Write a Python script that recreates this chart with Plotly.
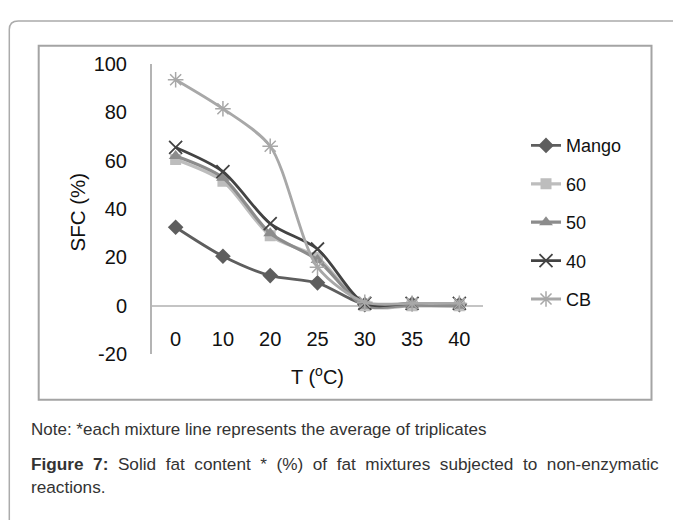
import plotly.graph_objects as go

# ---- data ----
temps = ["0", "10", "20", "25", "30", "35", "40"]
mango = [32.5, 20.5, 12.5, 9.5, 0.5, 0.8, 0.5]
s60 = [60.5, 51.5, 29.0, 20.0, 0.0, 0.0, 0.0]
s50 = [62.0, 53.0, 30.0, 19.0, 0.0, 0.3, 0.0]
s40 = [65.5, 55.5, 34.0, 23.5, 1.0, 1.0, 1.0]
cb = [93.5, 81.5, 66.0, 16.0, 1.5, 1.0, 1.0]
y_ticks = [-20, 0, 20, 40, 60, 80, 100]
y_tick_labels = ["-20", "0", "20", "40", "60", "80", "100"]

W, H = 681, 520
OFF = 8  # page body margin compensation
FONT = "Liberation Sans, Arial, sans-serif"

def px(x):
    return (x - OFF) / W

def py(y):
    return 1 - (y - OFF) / H

series = [
    ("Mango", mango, "#5e5e5e", "diamond", 12, 2.8, None),
    ("60", s60, "#bdbdbd", "square", 11, 3.2, None),
    ("50", s50, "#8c8c8c", "triangle-up", 12, 3.2, None),
    ("40", s40, "#434343", "x-thin-open", 13, 2.8, 1.8),
    ("CB", cb, "#a8a8a8", "asterisk-open", 13, 2.8, 1.5),
]

fig = go.Figure()
for name, vals, color, sym, size, lw, mlw in series:
    marker = dict(symbol=sym, size=size, color=color)
    if mlw:
        marker["line"] = dict(color=color, width=mlw)
    fig.add_trace(go.Scatter(
        x=temps, y=vals, name=name, mode="lines+markers",
        line=dict(color=color, width=lw, shape="spline", smoothing=0.8),
        marker=marker, legendgroup=name,
    ))

fig.update_layout(
    width=W, height=H,
    margin=dict(l=0, r=0, t=0, b=0),
    paper_bgcolor="white", plot_bgcolor="white",
    font=dict(family=FONT, color="#111111", size=20),
    showlegend=True,
    legend=dict(
        x=px(526), y=py(121), xanchor="left", yanchor="top",
        font=dict(size=18, color="#111111"),
        tracegroupgap=12, bgcolor="rgba(0,0,0,0)",
    ),
    xaxis=dict(
        type="category", range=[-0.5, 6.5],
        domain=[px(152), px(483)],
        anchor="free", position=py(328),
        showline=False, showgrid=False, zeroline=False,
        ticks="", tickfont=dict(size=20),
    ),
    yaxis=dict(
        range=[-20, 100], domain=[py(358), py(55)],
        tickvals=y_ticks, ticktext=y_tick_labels, ticks="", showgrid=False,
        showline=True, linecolor="#b4b4b4", linewidth=2,
        zeroline=True, zerolinecolor="#c4c4c4", zerolinewidth=2,
        ticklabelstandoff=19, tickfont=dict(size=20),
    ),
)

def note(text, x, y, size=20, color="#111111", xanchor="center", angle=0):
    fig.add_annotation(text=text, x=px(x), y=py(y), xref="paper", yref="paper",
                       xanchor=xanchor, yanchor="middle", textangle=angle,
                       showarrow=False, font=dict(size=size, color=color))

# axis titles
note("SFC (%)", 77, 210, size=20.5, angle=-90)
note("T (<sup>o</sup>C)", 317, 380, size=20)

# caption texts (first caption line is justified in the source)
gap = " \u00a0"
note("Note: *each mixture line represents the average of triplicates", 29, 437,
     size=17, color="#333333", xanchor="left")
fig_line = gap.join(["<b>Figure", "7:</b>", "Solid", "fat", "content", "*", "(%)", "of",
                     "fat", "mixtures", "subjected", "to", "non-enzymatic"])
note(fig_line, 29, 473, size=17.2, color="#333333", xanchor="left")
note("reactions.", 29, 497, size=17.2, color="#333333", xanchor="left")

# inner chart box
fig.add_shape(type="rect", xref="paper", yref="paper",
              x0=px(38.7), x1=px(651.5), y0=py(405.5), y1=py(36),
              line=dict(color="#a4a4a4", width=2), layer="below")
# outer rounded frame
path = (f"M {px(9.3)},{py(560)} L {px(9.3)},{py(19)} "
        f"Q {px(9.3)},{py(10)} {px(18.3)},{py(10)} L {px(720)},{py(10)}")
fig.add_shape(type="path", xref="paper", yref="paper", path=path,
              line=dict(color="#ababab", width=1.5), layer="below")

fig.write_html("out.html")
